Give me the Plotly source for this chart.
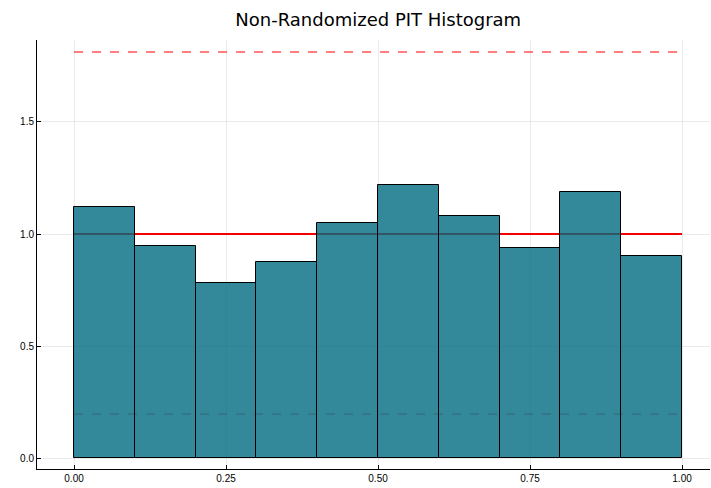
import plotly.graph_objects as go

bin_edges = [0.0, 0.1, 0.2, 0.3, 0.4, 0.5, 0.6, 0.7, 0.8, 0.9, 1.0]
densities = [1.12, 0.946, 0.781, 0.875, 1.049, 1.219, 1.080, 0.9375, 1.1875, 0.902]
uniform_level = 1.0
upper_bound = 1.8125
lower_bound = 0.196
x_tick_vals = [0.0, 0.25, 0.5, 0.75, 1.0]
x_tick_text = ["0.00", "0.25", "0.50", "0.75", "1.00"]
y_tick_vals = [0.0, 0.5, 1.0, 1.5]
y_tick_text = ["0.0", "0.5", "1.0", "1.5"]

centers = [(a + b) / 2 for a, b in zip(bin_edges[:-1], bin_edges[1:])]
widths = [b - a for a, b in zip(bin_edges[:-1], bin_edges[1:])]
x0, x1 = bin_edges[0], bin_edges[-1]

fig = go.Figure()
fig.add_trace(go.Bar(
    x=centers, y=densities, width=widths,
    marker=dict(color="rgba(0,106,128,0.8)", line=dict(color="#000000", width=1)),
    showlegend=False, hoverinfo="skip",
))

fig.add_shape(type="line", xref="x", yref="y", x0=x0, x1=x1, y0=uniform_level, y1=uniform_level,
              line=dict(color="#ff0000", width=2), layer="below")
fig.add_shape(type="line", xref="x", yref="y", x0=x0, x1=x1, y0=upper_bound, y1=upper_bound,
              line=dict(color="rgba(255,0,0,0.5)", width=2, dash="dash"), layer="below")
fig.add_shape(type="line", xref="x", yref="y", x0=x0, x1=x1, y0=lower_bound, y1=lower_bound,
              line=dict(color="rgba(255,0,0,0.5)", width=1.3, dash="dash"), layer="below")

axis_common = dict(
    showgrid=True, gridcolor="rgba(0,0,0,0.08)", gridwidth=1,
    zeroline=False, showline=True, linecolor="#000000", linewidth=1,
    ticks="inside", ticklen=4, tickcolor="#000000",
    tickfont=dict(family="Liberation Sans, Arial, sans-serif", size=10, color="#000000"),
    mirror=False,
)

fig.update_layout(
    width=711, height=488,
    margin=dict(l=37, r=1, t=40, b=19),
    paper_bgcolor="white", plot_bgcolor="white",
    title=dict(text="Non-Randomized PIT Histogram", x=0.532, xanchor="center", y=0.959, yanchor="middle",
               font=dict(family="DejaVu Sans, sans-serif", size=18, color="#000000")),
    xaxis=dict(range=[-0.0609, 1.046], tickvals=x_tick_vals, ticktext=x_tick_text, **axis_common),
    yaxis=dict(range=[-0.049, 1.866], tickvals=y_tick_vals, ticktext=y_tick_text, **axis_common),
    bargap=0,
)

fig.write_html("out.html", config={"displayModeBar": False},
               post_script="document.body.style.margin='0';document.body.style.overflow='hidden';")
